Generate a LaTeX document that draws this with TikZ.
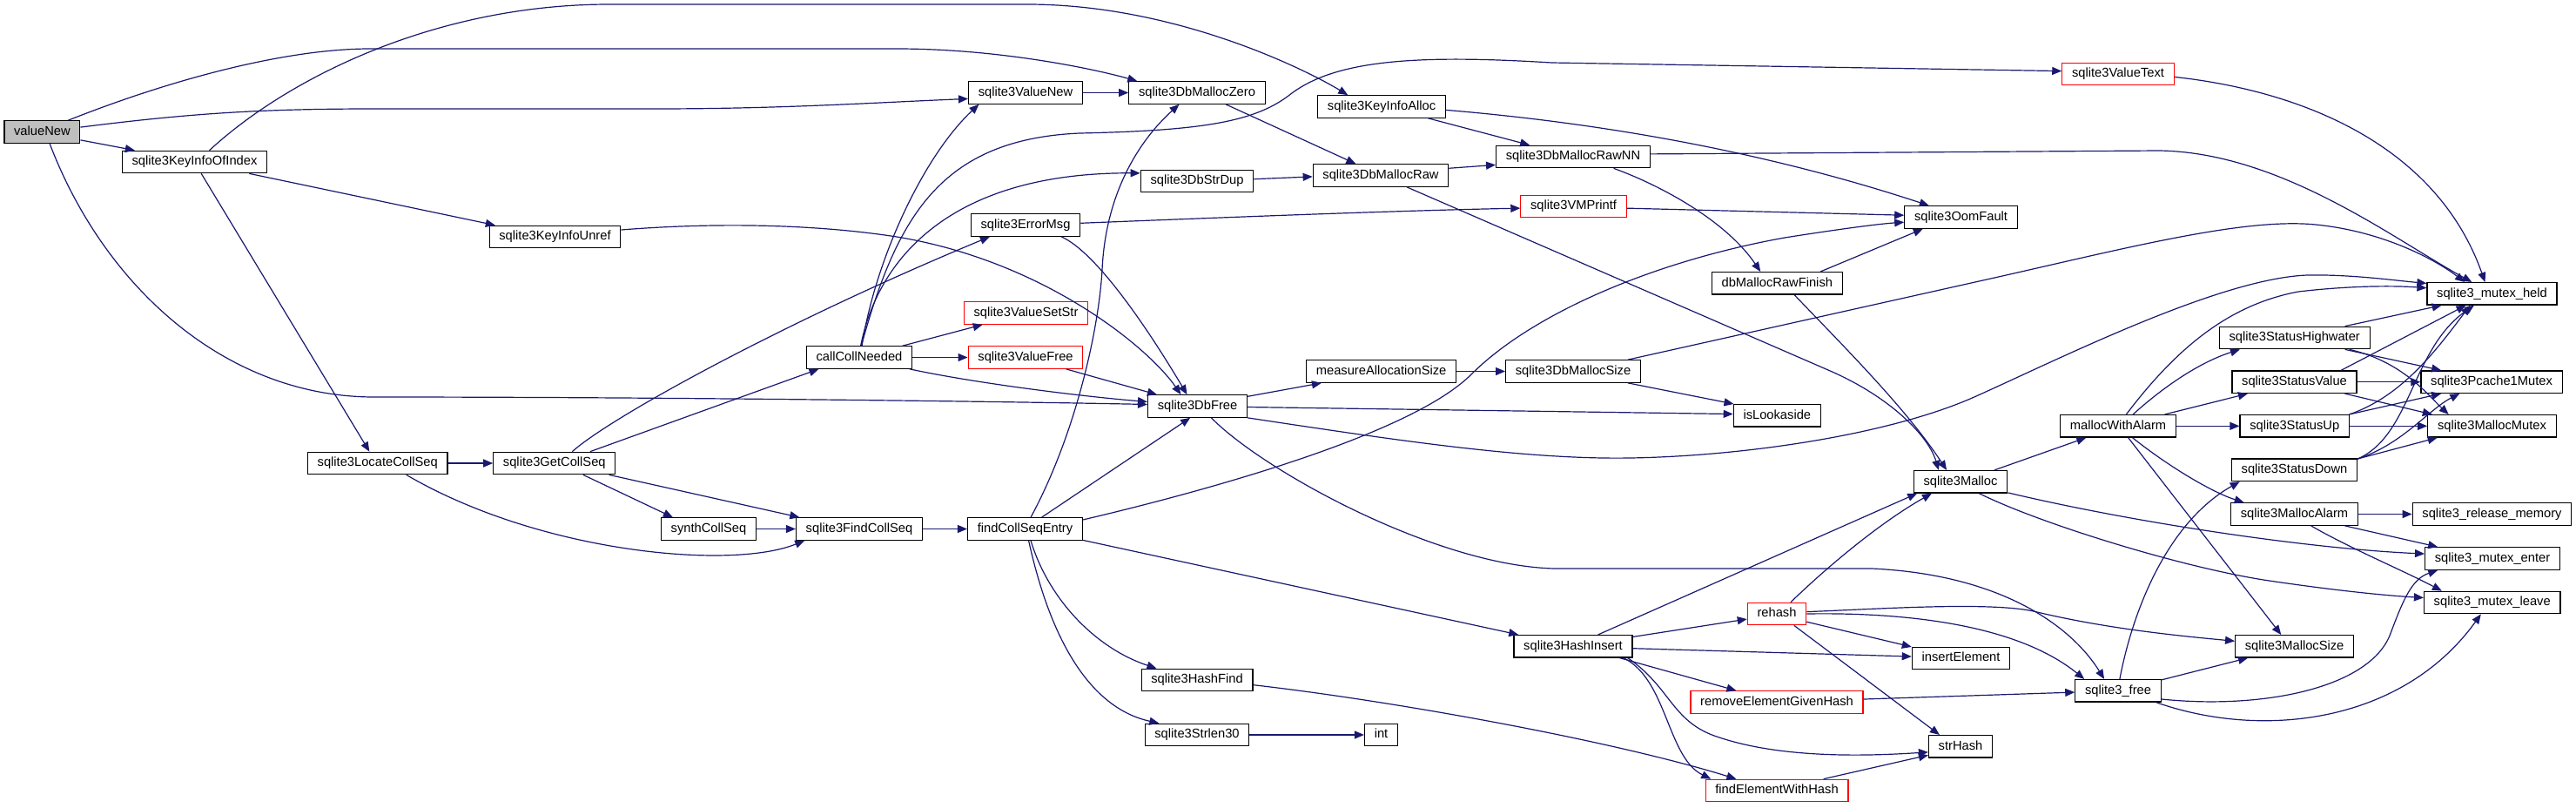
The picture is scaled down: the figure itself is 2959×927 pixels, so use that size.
\documentclass[tikz,border=0pt]{standalone}
\usepackage{fontspec}
\setmainfont{Liberation Sans}
\usetikzlibrary{arrows.meta}
\definecolor{edgec}{HTML}{191970}
\definecolor{grayfill}{HTML}{BFBFBF}
\begin{document}
\begin{tikzpicture}[x=0.5pt,y=-0.5pt,
  fn/.style={draw=black, line width=0.6pt, fill=white, minimum height=12.75pt, inner xsep=5.6pt, inner ysep=0pt,
    text height=5.4pt, text depth=1.6pt, font=\fontsize{7.35}{8}\selectfont, anchor=center},
  trunc/.style={fn, draw=red},
  root/.style={fn, fill=grayfill},
  e/.style={draw=edgec, line width=0.6pt, -{Triangle[length=5.5pt,width=4.5pt]}}]
\useasboundingbox[fill=white] (0,0) rectangle (2959,927);

\node[root] (vN) at (48.4,151.5) {valueNew};
\node[fn] (kOI) at (223.5,186) {sqlite3KeyInfoOfIndex};
\node[fn] (kUr) at (637.5,272) {sqlite3KeyInfoUnref};
\node[fn] (lCS) at (433.7,532) {sqlite3LocateCollSeq};
\node[fn] (gCS) at (636.8,532) {sqlite3GetCollSeq};
\node[fn] (syn) at (814,607.5) {synthCollSeq};
\node[fn] (cCN) at (987,410.5) {callCollNeeded};
\node[fn] (fCS) at (987,607.5) {sqlite3FindCollSeq};
\node[fn] (vNew) at (1178,106.5) {sqlite3ValueNew};
\node[fn] (eMsg) at (1178,258.5) {sqlite3ErrorMsg};
\node[trunc] (vSS) at (1178.5,359.5) {sqlite3ValueSetStr};
\node[trunc] (vFr) at (1178,410.5) {sqlite3ValueFree};
\node[fn] (fCE) at (1177.5,607.5) {findCollSeqEntry};
\node[fn] (dMZ) at (1375,106.5) {sqlite3DbMallocZero};
\node[fn] (dSD) at (1375,208) {sqlite3DbStrDup};
\node[fn] (dFr) at (1375.5,466.5) {sqlite3DbFree};
\node[fn] (hF) at (1375,781) {sqlite3HashFind};
\node[fn] (sl30) at (1375,844) {sqlite3Strlen30};
\node[fn] (kAl) at (1587,122.5) {sqlite3KeyInfoAlloc};
\node[fn] (dMR) at (1586,201.5) {sqlite3DbMallocRaw};
\node[fn] (mAS) at (1586.6,426.5) {measureAllocationSize};
\node[fn] (nInt) at (1586.5,844) {int};
\node[fn] (dMRNN) at (1807,180) {sqlite3DbMallocRawNN};
\node[trunc] (vmp) at (1807.5,237) {sqlite3VMPrintf};
\node[fn] (dMS) at (1807,426.5) {sqlite3DbMallocSize};
\node[fn] (hI) at (1807,742.3) {sqlite3HashInsert};
\node[fn] (dRF) at (2041.3,325.3) {dbMallocRawFinish};
\node[fn] (isL) at (2041.3,477.3) {isLookaside};
\node[trunc] (rh) at (2041,705) {rehash};
\node[trunc] (rEG) at (2041,806.5) {removeElementGivenHash};
\node[trunc] (fEW) at (2041,908) {findElementWithHash};
\node[fn] (oom) at (2252.5,249.5) {sqlite3OomFault};
\node[fn] (mal) at (2252,553.3) {sqlite3Malloc};
\node[fn] (iE) at (2252.5,756) {insertElement};
\node[fn] (sH) at (2252,857.3) {strHash};
\node[trunc] (vT) at (2433,85) {sqlite3ValueText};
\node[fn] (mWA) at (2433,489.3) {mallocWithAlarm};
\node[fn] (fre) at (2433,793.3) {sqlite3\_free};
\node[fn] (sHW) at (2635.7,388) {sqlite3StatusHighwater};
\node[fn] (sV) at (2635.5,438.7) {sqlite3StatusValue};
\node[fn] (sU) at (2635.7,489.3) {sqlite3StatusUp};
\node[fn] (sD) at (2635.5,539.8) {sqlite3StatusDown};
\node[fn] (mA) at (2635.5,590.5) {sqlite3MallocAlarm};
\node[fn] (mSz) at (2635.6,742.3) {sqlite3MallocSize};
\node[fn] (mH) at (2862.5,337.3) {sqlite3\_mutex\_held};
\node[fn] (pcM) at (2862,438.7) {sqlite3Pcache1Mutex};
\node[fn] (mM) at (2862.5,489.3) {sqlite3MallocMutex};
\node[fn] (rM) at (2862.5,590.5) {sqlite3\_release\_memory};
\node[fn] (mE) at (2863,641.5) {sqlite3\_mutex\_enter};
\node[fn] (mL) at (2862.7,692) {sqlite3\_mutex\_leave};

% valueNew
\draw[e] (vN.7) .. controls (220,130) and (300,125) .. (430,125) -- (750,125) .. controls (900,125) and (1000,118) .. (vNew.186);
\draw[e] (vN.24) .. controls (200,90) and (330,56) .. (425,56) -- (1030,56) .. controls (1150,56) and (1260,80) .. (dMZ.169);
\draw[e] (vN.-57) .. controls (120,330) and (260,456) .. (430,456) .. controls (800,456) and (1200,462) .. (dFr.178);
\draw[e] (vN.-12) -- (kOI.169);
% KeyInfoOfIndex
\draw[e] (kOI.38) .. controls (330,90) and (500,5) .. (700,5) -- (1180,5) .. controls (1350,5) and (1500,80) .. (kAl.161);
\draw[e] (kOI.-12) -- (kUr.169);
\draw[e] (kOI.-60) -- (lCS.125);
\draw[e] (kUr.6) .. controls (800,257) and (920,255) .. (1030,272) .. controls (1200,300) and (1320,400) .. (dFr.145);
% coll seq
\draw[e] (lCS.east) -- (gCS.west);
\draw[e] (lCS.-22) .. controls (620,635) and (840,655) .. (fCS.-168);
\draw[e] (gCS.18) -- (cCN.-164);
\draw[e] (gCS.33) .. controls (700,480) and (900,370) .. (eMsg.-162);
\draw[e] (gCS.-22) -- (syn.162);
\draw[e] (gCS.-12) -- (fCS.169);
\draw[e] (syn.east) -- (fCS.west);
\draw[e] (fCS.east) -- (fCE.west);
% callCollNeeded
\draw[e] (cCN.77) .. controls (1005,300) and (1060,180) .. (vNew.-166);
\draw[e] (cCN.80) .. controls (1030,250) and (1080,160) .. (1240,153) .. controls (1380,150) and (1440,140) .. (1480,110) .. controls (1530,70) and (1620,62) .. (1782,72) -- (vT.177);
\draw[e] (cCN.83) .. controls (1010,290) and (1100,198) .. (dSD.172);
\draw[e] (cCN.15) -- (vSS.-165);
\draw[e] (cCN.east) -- (vFr.west);
\draw[e] (cCN.-13) .. controls (1120,440) and (1240,455) .. (dFr.175);
\draw[e] (vFr.-16) -- (dFr.164);
% ErrorMsg
\draw[e] (eMsg.2) .. controls (1400,250) and (1600,242) .. (vmp.182);
\draw[e] (eMsg.-18) .. controls (1260,290) and (1320,380) .. (dFr.132);
% findCollSeqEntry
\draw[e] (fCE.64) .. controls (1235,500) and (1262,380) .. (1266,310) .. controls (1270,220) and (1310,160) .. (dMZ.-147);
\draw[e] (fCE.35) -- (dFr.-122);
\draw[e] (fCE.9) .. controls (1380,565) and (1620,500) .. (1690,430) .. controls (1760,360) and (1900,300) .. (2050,273) .. controls (2120,262) and (2160,257) .. (oom.185);
\draw[e] (fCE.-11) -- (hI.168);
\draw[e] (fCE.-64) .. controls (1205,690) and (1260,745) .. (hF.164);
\draw[e] (fCE.-73) .. controls (1210,750) and (1260,815) .. (sl30.163);
\draw[e] (sl30.east) -- (nInt.west);
\draw[e] (hF.-5) .. controls (1600,805) and (1850,850) .. (fEW.164);
% DbFree
\draw[e] (dFr.11) -- (mAS.-169);
\draw[e] (dFr.-1) -- (isL.178);
\draw[e] (dFr.south east) .. controls (1600,505) and (1750,528) .. (1872,526) .. controls (2000,524) and (2170,500) .. (2270,455) .. controls (2370,410) and (2550,320) .. (2650,316) .. controls (2700,315) and (2750,322) .. (mH.171);
\draw[e] (dFr.-40) .. controls (1450,540) and (1650,650) .. (1786,653) -- (2150,653) .. controls (2300,660) and (2380,720) .. (fre.140);
\draw[e] (mAS.east) -- (dMS.west);
\draw[e] (dMS.-12) -- (isL.165);
\draw[e] (dMS.12) -- (2300,317) .. controls (2450,283) and (2580,250) .. (2660,258) .. controls (2740,266) and (2800,300) .. (mH.157);
\draw[e] (vT.-3) .. controls (2650,105) and (2800,170) .. (mH.121);
\draw[e] (dMRNN.2) -- (2480,173) .. controls (2620,175) and (2750,275) .. (mH.150);
% alloc chain
\draw[e] (kAl.-14) -- (dMRNN.165);
\draw[e] (kAl.-3) .. controls (1800,138) and (2000,165) .. (oom.160);
\draw[e] (dMR.6) -- (dMRNN.186);
\draw[e] (dMR.-24) -- (2100,425) .. controls (2170,455) and (2215,500) .. (mal.152);
\draw[e] (dRF.-34) .. controls (2120,400) and (2190,470) .. (mal.140);
\draw[e] (dRF.15) -- (oom.-163);
\draw[e] (dMRNN.-16) .. controls (1900,210) and (1980,250) .. (dRF.145);
\draw[e] (dMZ.-22) -- (dMR.155);
\draw[e] (dSD.2) -- (dMR.181);
\draw[e] (vNew.east) -- (dMZ.west);
\draw[e] (vmp.-2) -- (oom.178);
% Malloc
\draw[e] (mal.19) -- (mWA.-160);
\draw[e] (mal.-13) .. controls (2450,600) and (2650,630) .. (mE.176);
\draw[e] (mal.-32) .. controls (2340,600) and (2500,650) .. (2600,666) .. controls (2680,678) and (2740,684) .. (mL.176);
\draw[e] (mWA.55) .. controls (2500,400) and (2560,350) .. (2640,335) .. controls (2700,328) and (2750,328) .. (mH.175);
\draw[e] (mWA.38) .. controls (2490,440) and (2530,415) .. (sHW.-168);
\draw[e] (mWA.14) -- (sV.-166);
\draw[e] (mWA.east) -- (sU.west);
\draw[e] (mWA.-39) .. controls (2490,535) and (2540,565) .. (mA.167);
\draw[e] (mWA.-49) -- (mSz.139);
\draw[e] (mA.east) -- (rM.west);
\draw[e] (mA.-13) -- (mE.168);
\draw[e] (mA.-35) .. controls (2700,630) and (2760,655) .. (mL.167);
% free
\draw[e] (fre.14) -- (mSz.-166);
\draw[e] (fre.-11) .. controls (2600,815) and (2720,790) .. (2745,730) .. controls (2760,690) and (2770,665) .. (mE.-168);
\draw[e] (fre.-17) .. controls (2600,850) and (2760,830) .. (mL.-134);
\draw[e] (fre.82) .. controls (2450,700) and (2490,600) .. (sD.-168);
% status
\draw[e] (sHW.13) -- (mH.-167);
\draw[e] (sHW.-13) -- (pcM.167);
\draw[e] (sHW.-12) .. controls (2760,415) and (2790,455) .. (mM.165);
\draw[e] (sV.14) -- (mH.-156);
\draw[e] (sV.east) -- (pcM.west);
\draw[e] (sV.-13) -- (mM.169);
\draw[e] (sU.12) .. controls (2760,455) and (2800,400) .. (mH.-152);
\draw[e] (sU.12) -- (pcM.-167);
\draw[e] (sU.east) -- (mM.west);
\draw[e] (sD.10) .. controls (2770,500) and (2770,400) .. (mH.-147);
\draw[e] (sD.10) .. controls (2760,510) and (2790,470) .. (pcM.-160);
\draw[e] (sD.10) -- (mM.-168);
% hash
\draw[e] (hI.9) -- (rh.-170);
\draw[e] (hI.-2) -- (iE.178);
\draw[e] (hI.-14) -- (rEG.164);
\draw[e] (hI.-13) .. controls (1915,780) and (1915,870) .. (fEW.170);
\draw[e] (hI.-12) .. controls (1920,790) and (1920,830) .. (1975,847) .. controls (2050,872) and (2150,868) .. (sH.-170);
\draw[e] (hI.25) -- (mal.-165);
\draw[e] (rh.40) .. controls (2100,650) and (2160,600) .. (mal.-158);
\draw[e] (rh.4) .. controls (2150,700) and (2290,690) .. (2340,703) .. controls (2420,722) and (2500,730) .. (mSz.175);
\draw[e] (rh.0) .. controls (2200,703) and (2320,720) .. (fre.161);
\draw[e] (rh.-15) -- (iE.167);
\draw[e] (rh.-34) -- (sH.151);
\draw[e] (rEG.2) -- (fre.182);
\draw[e] (fEW.14) -- (sH.-165);
\end{tikzpicture}
\end{document}
